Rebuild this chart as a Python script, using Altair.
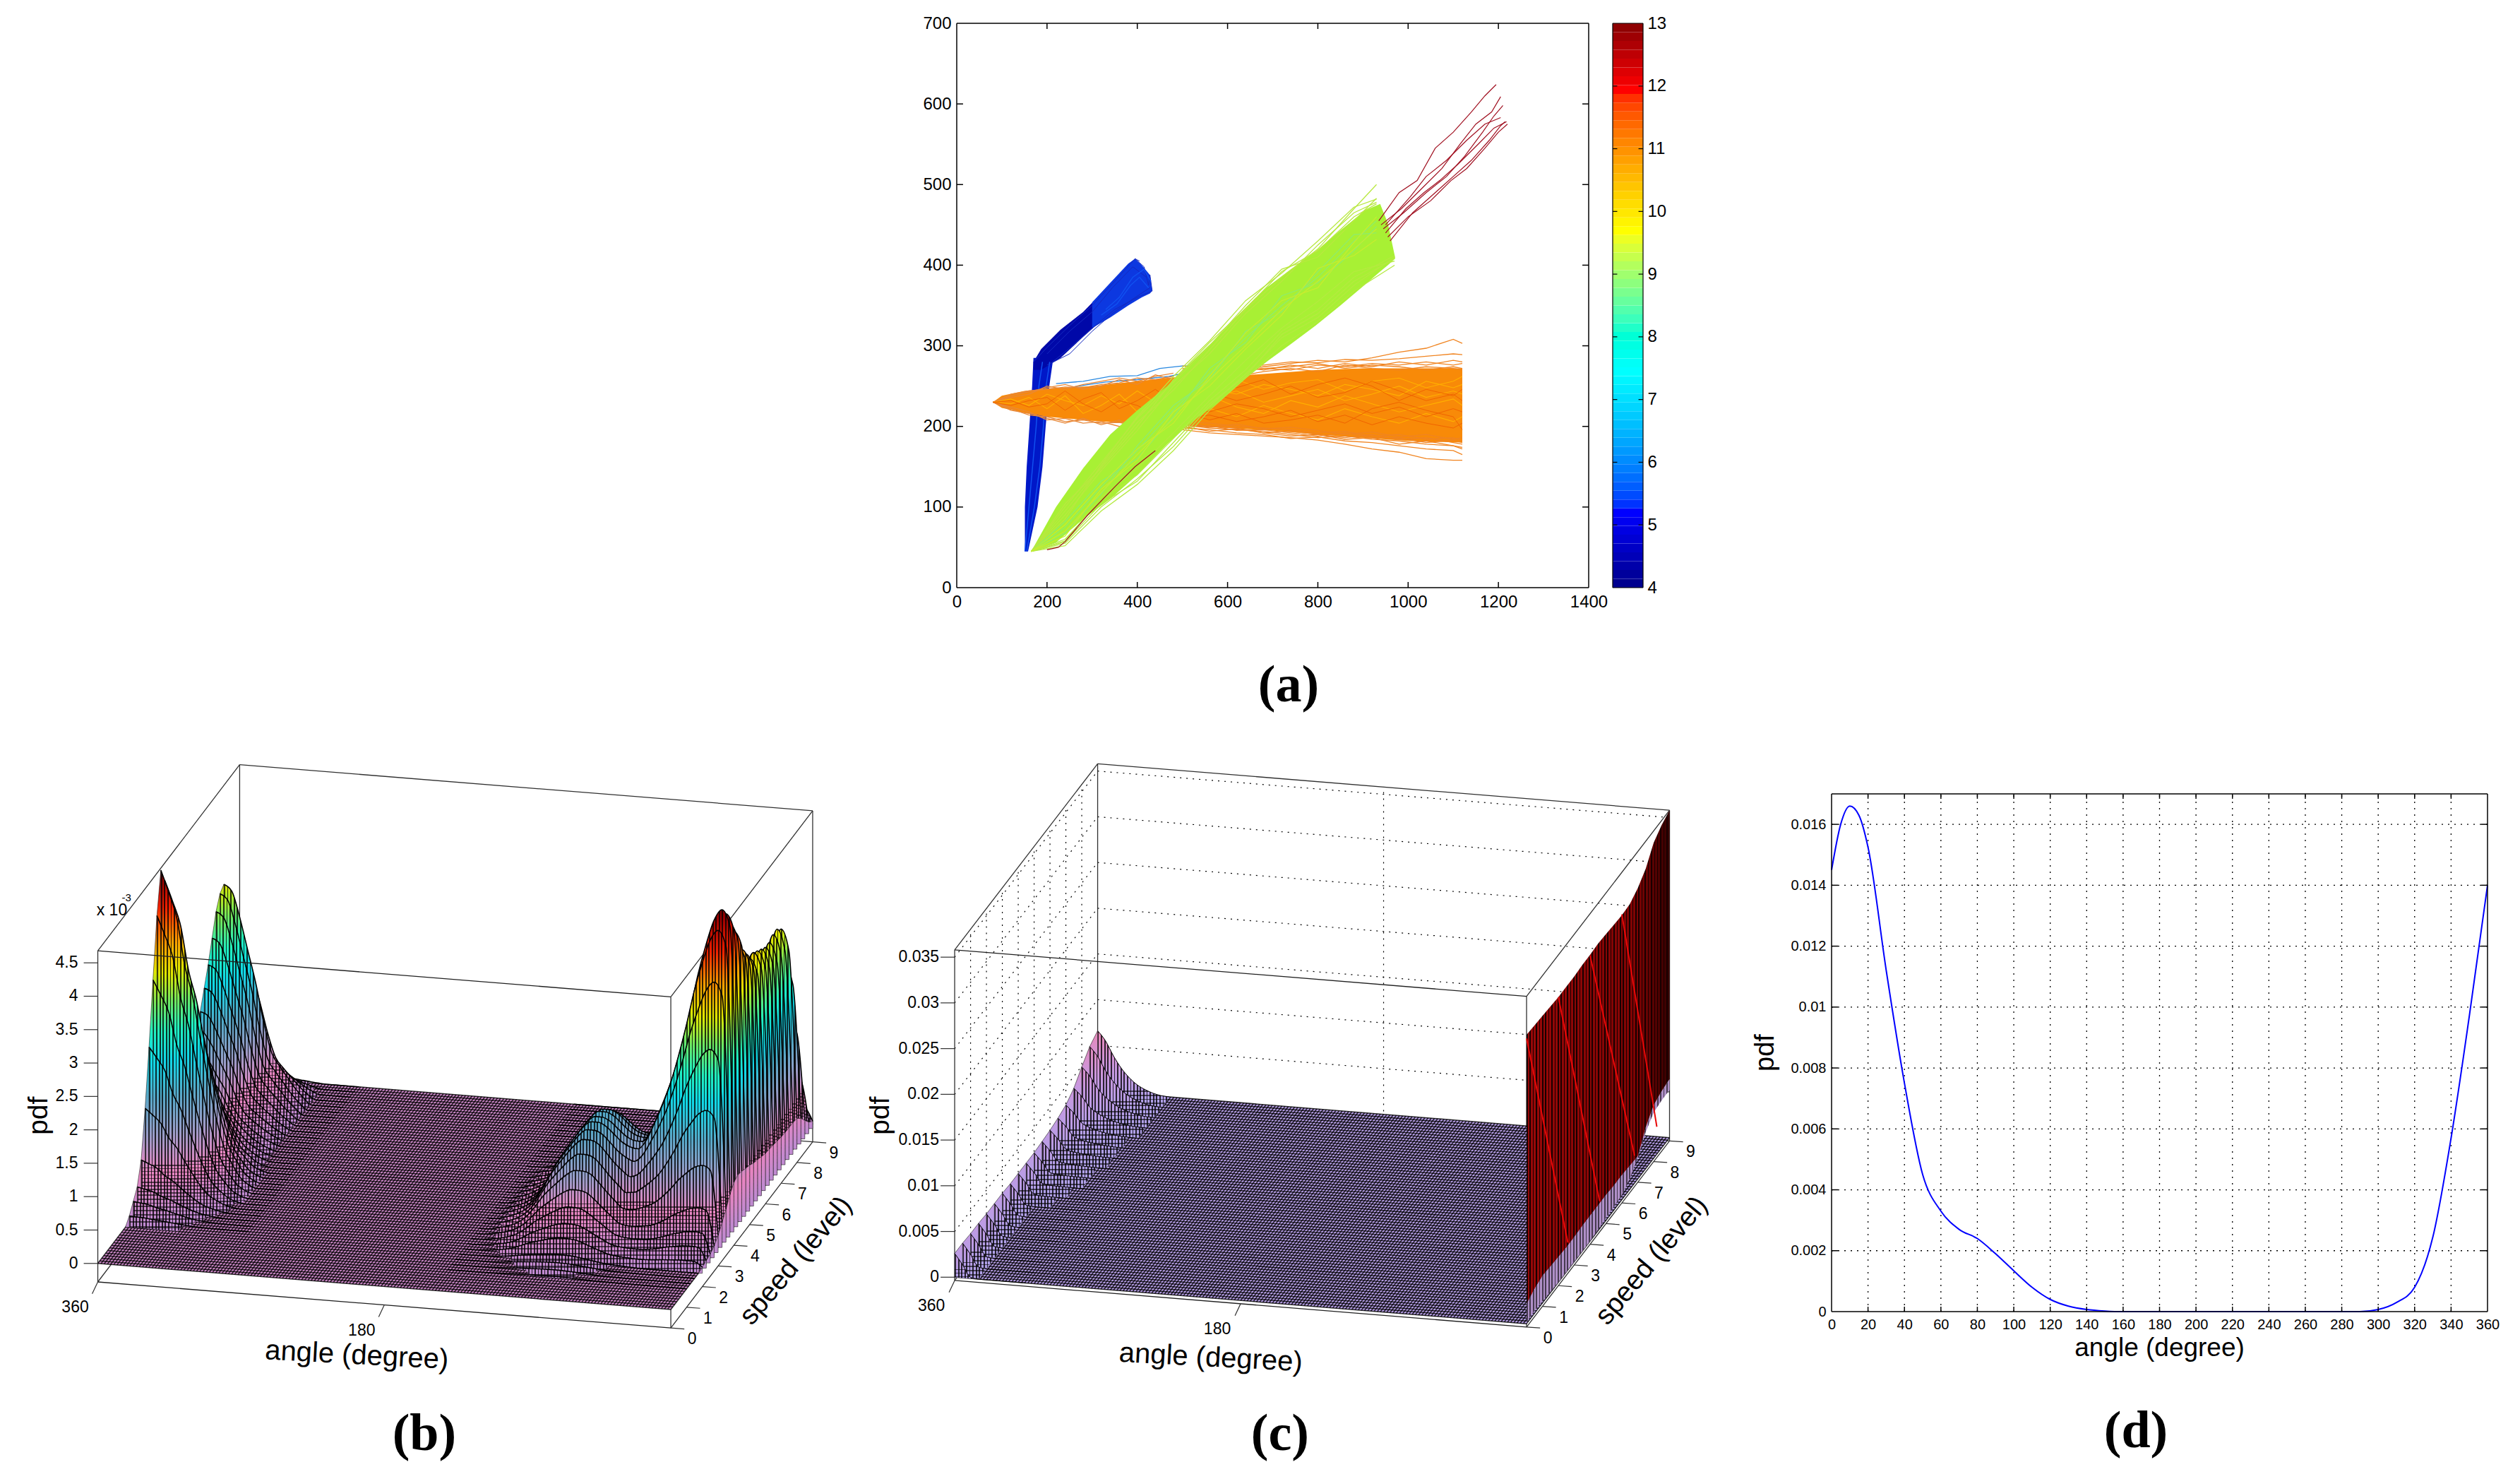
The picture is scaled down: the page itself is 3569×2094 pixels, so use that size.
import altair as alt
import pandas as pd

SANS = "Liberation Sans"
SERIF = "Liberation Serif"

# ---------- panel (a): trajectories ----------
JET_VALUES = [4, 5.125, 7.375, 9.625, 11.875, 13]
JET_COLORS = ["#00008f", "#0000ff", "#00ffff", "#ffff00", "#ff0000", "#800000"]
COLORBAR_LEVELS = [4 + i * 9 / 64 for i in range(64)]

ORANGE_X = [80, 100, 150, 200, 300, 400, 500, 600, 700, 800, 900, 1000, 1120]
ORANGE_TOP = [230, 238, 244, 247, 250, 256, 262, 262, 266, 270, 272, 272, 272]
ORANGE_BOT = [230, 223, 217, 212, 207, 203, 201, 198, 195, 190, 186, 182, 180]
GREEN_X = [165, 220, 280, 340, 400, 466, 520, 576, 630, 686, 740, 795, 850, 905, 938, 955, 971]
GREEN_TOP = [45, 100, 148, 190, 220, 250, 280, 310, 342, 372, 395, 417, 443, 468, 476, 452, 410]
GREEN_BOT = [45, 56, 85, 110, 140, 178, 205, 228, 255, 280, 302, 325, 350, 376, 392, 400, 408]
BLUE_Y = [45, 100, 150, 200, 250, 285]
BLUE_LEFT = [151, 151, 155, 161, 167, 170]
BLUE_RIGHT = [158, 179, 190, 197, 205, 214]
ARM_X = [170, 187, 230, 280, 320]
ARM_TOP = [280, 296, 320, 342, 365]
ARM_BOT = [270, 270, 285, 311, 331]
ARM2_X = [300, 340, 380, 395, 410, 428, 433]
ARM2_TOP = [354, 378, 402, 408, 400, 388, 368]
ARM2_BOT = [322, 335, 350, 355, 360, 365, 368]

ORANGE_RIGHT_X = [500, 560, 620, 680, 740, 800, 860, 920, 980, 1040, 1100, 1120]
ORANGE_EDGES = [
    [275, 272, 270, 274, 278, 282, 280, 285, 292, 297, 308, 303],
    [268, 270, 272, 276, 280, 279, 283, 282, 284, 287, 290, 289],
    [266, 264, 268, 272, 270, 276, 274, 278, 276, 280, 276, 278],
    [262, 266, 262, 268, 272, 268, 276, 272, 270, 274, 272, 270],
    [272, 268, 274, 270, 276, 272, 278, 274, 280, 276, 282, 280],
    [270, 274, 268, 272, 274, 278, 272, 276, 274, 270, 274, 272],
    [196, 192, 190, 188, 186, 183, 178, 172, 168, 160, 158, 158],
    [198, 196, 192, 190, 185, 187, 182, 180, 176, 172, 170, 165],
    [202, 198, 196, 194, 190, 186, 188, 184, 182, 178, 176, 172],
    [204, 200, 198, 192, 194, 190, 186, 190, 184, 186, 180, 178],
    [206, 204, 200, 198, 196, 192, 194, 188, 190, 184, 186, 182],
    [200, 194, 197, 192, 188, 190, 184, 186, 178, 182, 176, 174],
    [199, 201, 195, 196, 192, 188, 192, 186, 186, 180, 183, 180],
    [203, 199, 203, 197, 199, 195, 190, 193, 187, 190, 184, 186],
]
ORANGE_YELLOW = [
    [240, 235, 244, 230, 238, 246, 232, 240, 250, 236, 244, 240],
    [250, 246, 240, 252, 246, 238, 252, 246, 238, 256, 248, 252],
    [215, 222, 212, 226, 216, 208, 222, 212, 204, 216, 206, 212],
    [228, 238, 224, 216, 232, 224, 238, 228, 218, 226, 234, 226],
    [256, 250, 258, 246, 254, 258, 244, 256, 260, 248, 256, 262],
]
ORANGE_RED = [
    [225, 218, 228, 222, 212, 220, 228, 216, 224, 212, 222, 218],
    [210, 214, 206, 212, 220, 206, 214, 202, 212, 204, 198, 204],
    [235, 242, 232, 240, 250, 236, 242, 256, 244, 232, 240, 232],
    [246, 254, 248, 258, 240, 252, 260, 250, 232, 246, 238, 246],
    [218, 208, 216, 204, 208, 214, 204, 222, 230, 220, 212, 196],
]
ORANGE_LEFT_X = [80, 120, 160, 200, 240, 280, 320, 360, 400, 440, 480]
ORANGE_LEFT = [
    [230, 240, 244, 246, 249, 248, 252, 254, 260, 258, 262],
    [230, 236, 240, 250, 246, 252, 256, 260, 256, 262, 266],
    [230, 238, 243, 248, 252, 246, 250, 258, 252, 264, 258],
    [230, 222, 214, 212, 206, 208, 204, 205, 200, 198, 200],
    [230, 224, 218, 208, 210, 204, 206, 200, 203, 196, 198],
    [230, 220, 216, 210, 204, 210, 202, 208, 198, 202, 196],
]
ORANGE_LEFT_YELLOW = [
    [230, 234, 226, 240, 232, 226, 238, 228, 244, 230, 240],
    [230, 228, 236, 222, 238, 216, 226, 240, 218, 234, 222],
]
ORANGE_LEFT_RED = [
    [230, 226, 232, 236, 220, 234, 242, 222, 232, 246, 230],
    [230, 232, 224, 228, 244, 228, 218, 232, 226, 214, 236],
]
GREEN_LINE_X = [165, 240, 320, 400, 480, 560, 640, 720, 800, 880, 930]
GREEN_UPPER = [
    [45, 95, 150, 205, 245, 295, 345, 385, 420, 470, 500],
    [45, 100, 155, 210, 255, 300, 350, 395, 410, 455, 483],
    [45, 90, 145, 195, 250, 290, 340, 380, 425, 465, 478],
    [45, 85, 152, 212, 262, 306, 356, 390, 430, 472, 482],
    [45, 104, 148, 200, 258, 304, 346, 392, 418, 460, 476],
]
GREEN_LOWER_X = [165, 240, 320, 400, 480, 560, 640, 720, 800, 880, 970]
GREEN_LOWER = [
    [45, 55, 100, 135, 175, 225, 265, 310, 335, 375, 410],
    [45, 60, 108, 140, 185, 232, 270, 318, 345, 385, 412],
    [45, 58, 112, 148, 192, 238, 282, 322, 355, 392, 405],
    [45, 52, 95, 128, 170, 220, 260, 300, 330, 368, 400],
    [45, 57, 104, 132, 180, 228, 262, 314, 340, 380, 408],
]
GREEN_INNER = [
    [45, 75, 125, 170, 220, 265, 310, 350, 385, 430, 455],
    [45, 82, 132, 160, 212, 272, 304, 362, 378, 418, 448],
    [45, 68, 116, 176, 226, 258, 318, 342, 392, 438, 440],
]
GREEN_YELLOW = [
    [45, 70, 118, 165, 210, 258, 300, 345, 380, 420, 445],
    [45, 78, 128, 172, 204, 262, 316, 356, 372, 428, 460],
    [45, 64, 122, 158, 218, 250, 296, 338, 396, 412, 432],
]
RED_TRACKS = [
    ([935, 980, 1020, 1060, 1100, 1140, 1170, 1195], [455, 490, 505, 545, 565, 590, 610, 624]),
    ([940, 985, 1030, 1075, 1115, 1150, 1185, 1205], [450, 470, 495, 520, 550, 575, 590, 609]),
    ([945, 990, 1040, 1085, 1125, 1165, 1190, 1210], [445, 465, 490, 510, 535, 565, 585, 598]),
    ([950, 995, 1035, 1070, 1110, 1155, 1190, 1218], [440, 470, 490, 505, 525, 550, 570, 578]),
    ([955, 1000, 1050, 1095, 1130, 1170, 1200, 1220], [435, 460, 480, 505, 520, 545, 565, 575]),
    ([950, 1005, 1040, 1085, 1130, 1170, 1205], [450, 485, 510, 530, 555, 575, 583]),
    ([960, 1010, 1060, 1100, 1140, 1180, 1205, 1215], [430, 465, 490, 510, 530, 555, 573, 578]),
    ([200, 225, 240, 290, 350, 395, 440], [47, 50, 57, 90, 125, 150, 170]),
]
BLUE_TRACKS = [
    ([220, 280, 340, 400, 450, 500, 530], [253, 256, 262, 263, 272, 275, 275]),
    ([200, 270, 330, 400, 470, 520], [243, 250, 255, 258, 262, 268]),
]
NAVY_TRACKS = [
    ([170, 200, 250, 300, 350, 395, 405], [280, 298, 325, 350, 380, 408, 405]),
    ([212, 250, 300, 350, 400, 433], [280, 297, 322, 345, 360, 368]),
    ([395, 415, 428, 425, 433], [408, 398, 388, 375, 368]),
    ([200, 250, 300, 345, 390, 420], [290, 318, 342, 372, 398, 385]),
    ([200, 250, 300, 345, 390, 428], [276, 290, 318, 340, 358, 372]),
]
BRIGHT_BLUE_TRACKS = [
    ([151, 160, 168, 176, 182, 190], [45, 100, 150, 200, 250, 280]),
    ([155, 172, 184, 192, 198, 206], [45, 100, 150, 200, 250, 280]),
    ([330, 360, 390, 415, 430], [345, 360, 385, 395, 380]),
    ([320, 355, 385, 405, 425], [338, 352, 375, 385, 372]),
]

# ---------- panel (d): marginal pdf ----------
D_ANGLE = [0, 5, 10, 15, 20, 30, 40, 50, 60, 70, 80, 90, 100, 110, 120, 130, 140, 150, 160,
           290, 300, 310, 320, 330, 340, 350, 360]
D_PDF = [0.0145, 0.0160, 0.0166, 0.0163, 0.01525, 0.0112, 0.0075, 0.0045, 0.0033, 0.0027,
         0.0024, 0.0019, 0.00134, 0.0008, 0.0004, 0.00018, 0.00007, 0.00002, 0.0,
         0.0, 0.00007, 0.0003, 0.0008, 0.00245, 0.0057, 0.0097, 0.014]

# ---------- panel (b): surface read as angle profiles and speed weights ----------
B_SPEEDS = [i * 0.25 for i in range(37)]
B_RIGHT_ANGLES = list(range(0, 155, 5))
B_LEFT_ANGLES = list(range(285, 365, 5))
B_NEAR_R = [.15, .95, 1, .96, .88, .78, .66, .55, .45, .36, .28, .2, .14, .09, .05, .02, 0,
            0, 0, 0, 0, 0, 0, 0, 0, 0, 0, 0, 0, 0, 0]
B_FAR_R = [.12, .9, 1, .85, .6, .38, .2, .1, .04, 0, 0, 0, 0, 0, 0, 0, 0,
           0, 0, 0, 0, 0, 0, 0, 0, 0, 0, 0, 0, 0, 0]
B_BUMP_R = [0, 0, 0, .01, .01, .02, .02, .03, .05, .1, .15, .22, .31, .48, .65, .82, .96, 1, 1,
            .93, .82, .7, .57, .4, .25, .15, .09, .05, .02, 0, 0]
B_NEAR_L = [0, 0, 0, 0, .01, .03, .07, .12, .21, .33, .46, .6, .7, .85, .93, 1]
B_FAR_L = [0, 0, 0, 0, 0, .03, .07, .12, .17, .23, .37, .55, .7, .85, .97, 1]
B_NEAR_W = [0, 0, 0, 0, 0, 0, 0, 0, .02, .05, .08, .15, .3, .48, .68, .87, 1, .95, .8, .66, .5,
            .37, .26, .17, .1, .05, .02, .01, 0, 0, 0, 0, 0, 0, 0, 0, 0]
B_NEAR_W_RIGHT = [0, 0, 0, 0, 0, 0, 0, 0, .02, .05, .08, .14, .26, .42, .6, .8, .95, 1, .97, .92, .88,
                  .8, .72, .62, .52, .44, .36, .28, .2, .13, .07, .03, 0, 0, 0, 0, 0]
B_FAR_W = [0, 0, 0, 0, 0, 0, 0, 0, 0, 0, 0, 0, 0, 0, 0, 0, 0, 0, 0, 0, 0, .02, .1, .2, .3, .42,
           .52, .62, .72, .82, .92, .98, 1, .8, .52, .25, .08]
B_BUMP_W = [0, 0, 0, 0, .02, .03, .05, .08, .2, .3, .42, .55, .7, .82, .92, .97, 1, 1, 1, .97, .9,
            .78, .6, .45, .3, .2, .12, .07, .04, .02, 0, 0, 0, 0, 0, 0, 0]
B_NEAR_AMP, B_FAR_AMP, B_BUMP_AMP = 4.65, 3.2, 1.4
B_Z_LEVELS = [0, .5, 1, 1.5, 2, 2.4, 2.8, 3.2, 3.6, 4.1, 4.5, 4.8]
B_Z_COLORS = ["#c08ad0", "#e884c0", "#9c9cc8", "#58a8c8", "#10d8e8", "#20f0c0", "#70e860",
              "#e0e800", "#f8a000", "#f02000", "#a00000", "#500000"]

# ---------- panel (c) ----------
C_SPEEDS = [i * 0.5 for i in range(19)]
C_LEFT_ANGLES = [360 - d for d in range(45, -5, -5)]
C_EDGE_SHAPE = [0, 0, 0, 0, 0, 0, 0, .05, .55, 1]
C_BACK_SHAPE = [0, .01, .04, .09, .16, .27, .42, .62, .85, 1]
C_EDGE_W = [.0026, .0026, .0025, .0025, .0024, .0024, .0024, .0023, .0022, .0021, .0020, .0019,
            .0017, .0015, .0012, .0009, .0006, .0004, .0002]
C_BACK_W = [0, 0, 0, 0, 0, 0, 0, 0, .0001, .0002, .0003, .0005, .0008, .0012, .0018, .0028, .0043,
            .0056, .0064]
C_WALL_TOP = [.0316, .0315, .0314, .0313, .0312, .0312, .0312, .0313, .0313, .0314, .0313, .0312,
              .0311, .0312, .0318, .0328, .0345, .0353, .0358]
C_BAND_TOP = [.0022, .0027, .0030, .0029, .0028, .0027, .0027, .0028, .0028, .0028, .0028, .0027,
              .0027, .0026, .0025, .0045, .0058, .0062, .0064]
C_BAND_BOT = [.0002, .0003, .0002, .0001, 0, 0, 0, 0, 0, .0001, .0003, .0004, .0005, .0012, .0023,
              .0040, .0050, .0052, .0052]
C_Z_LEVELS = [0, .003, .0065]
C_Z_COLORS = ["#b0a0e8", "#c898e0", "#e888b8"]

TICKS_PDF_B = ["0", "0.5", "1", "1.5", "2", "2.5", "3", "3.5", "4", "4.5"]
TICKS_PDF_C = ["0", "0.005", "0.01", "0.015", "0.02", "0.025", "0.03", "0.035"]
SPEED_TICKS = list(range(10))

# scale objects that carry a visible axis (looked up so every layer agrees)
AXES = {}


# ---------- helpers ----------
def q(field, scale):
    return alt.X(field, type="quantitative", scale=scale, axis=AXES.get(id(scale)))


def qy(field, scale):
    return alt.Y(field, type="quantitative", scale=scale, axis=AXES.get(id(scale)))


def rules(frame, sx, sy, color="black", width=1.0, dash=None, opacity=1.0):
    kw = {"strokeDash": dash} if dash else {}
    return alt.Chart(pd.DataFrame(frame)).mark_rule(
        color=color, strokeWidth=width, opacity=opacity, **kw
    ).encode(x=q("x", sx), y=qy("y", sy), x2="x2:Q", y2="y2:Q")


def texts(frame, sx, sy, size=22, angle=0, align="center", font=SANS, weight="normal", baseline="middle"):
    kw = {"angle": angle} if angle else {}
    return alt.Chart(pd.DataFrame(frame)).mark_text(
        font=font, fontSize=size, align=align, baseline=baseline, fontWeight=weight, color="black", **kw
    ).encode(x=q("x", sx), y=qy("y", sy), text="t:N")


def polyline_frame(xs, rows):
    return pd.DataFrame(
        [{"x": x, "y": y, "id": i} for i, row in enumerate(rows) for x, y in zip(xs, row)]
    )


def tracks_frame(tracks):
    return pd.DataFrame(
        [{"x": x, "y": y, "id": i} for i, (xs, ys) in enumerate(tracks) for x, y in zip(xs, ys)]
    )


def lines(frame, sx, sy, color, width=1.0, opacity=1.0):
    return alt.Chart(frame).mark_line(color=color, strokeWidth=width, opacity=opacity).encode(
        x=q("x", sx), y=qy("y", sy), detail="id:N"
    )


def band(xs, top, bot, sx, sy, color):
    frame = pd.DataFrame({"x": xs, "y": top, "y2": bot})
    return alt.Chart(frame).mark_area(color=color).encode(x=q("x", sx), y=qy("y", sy), y2="y2:Q")


def frame_ticks(xticks, yticks, xmax, ymax, xlen, ylen, sx, sy, width=1.5):
    rows = [
        {"x": 0, "x2": xmax, "y": 0, "y2": 0},
        {"x": 0, "x2": xmax, "y": ymax, "y2": ymax},
        {"x": 0, "x2": 0, "y": 0, "y2": ymax},
        {"x": xmax, "x2": xmax, "y": 0, "y2": ymax},
    ]
    for t in xticks:
        rows += [{"x": t, "x2": t, "y": 0, "y2": ylen}, {"x": t, "x2": t, "y": ymax, "y2": ymax - ylen}]
    for t in yticks:
        rows += [{"x": 0, "x2": xlen, "y": t, "y2": t}, {"x": xmax, "x2": xmax - xlen, "y": t, "y2": t}]
    return rules(rows, sx, sy, width=width)


def lerp_color(levels, colors, z):
    if z <= levels[0]:
        return colors[0]
    for i in range(1, len(levels)):
        if z <= levels[i]:
            f = (z - levels[i - 1]) / (levels[i] - levels[i - 1])
            a = [int(colors[i - 1][k:k + 2], 16) for k in (1, 3, 5)]
            b = [int(colors[i][k:k + 2], 16) for k in (1, 3, 5)]
            return "#%02x%02x%02x" % tuple(round(p + (r - p) * f) for p, r in zip(a, b))
    return colors[-1]


def height_gradient(zmax, margin, levels, colors):
    stops = [{"offset": 0, "color": lerp_color(levels, colors, zmax)}]
    for lv, col in reversed(list(zip(levels, colors))):
        if lv < zmax:
            stops.append({"offset": (zmax - lv) / (zmax + margin), "color": col})
    stops.append({"offset": 1, "color": colors[0]})
    return {"gradient": "linear", "x1": 0, "y1": 0, "x2": 0, "y2": 1, "stops": stops}


def stripe_gradient(n, ink, gap="rgba(0,0,0,0)", frac=0.4):
    stops = []
    for i in range(n):
        stops += [
            {"offset": i / n, "color": ink},
            {"offset": (i + frac) / n, "color": ink},
            {"offset": (i + frac) / n, "color": gap},
            {"offset": (i + 1) / n, "color": gap},
        ]
    return {"gradient": "linear", "x1": 0, "y1": 0, "x2": 1, "y2": 0, "stops": stops}


def low_mesh_gradient(zmax, margin, below, px_per_z, period=4.5, ink="rgba(0,0,0,0.6)", gap="rgba(0,0,0,0)"):
    """Fine mesh rows on the foot of a hill, where the reference grid shows as a dense weave."""
    total = (zmax + margin) * px_per_z
    start = max(0.0, (zmax - below) / (zmax + margin))
    stops = [{"offset": 0, "color": gap}, {"offset": start, "color": gap}]
    n = max(1, int((1 - start) * total / period))
    for i in range(n):
        a = start + (1 - start) * i / n
        b = start + (1 - start) * (i + 0.32) / n
        c = start + (1 - start) * (i + 1) / n
        stops += [{"offset": a, "color": ink}, {"offset": b, "color": ink},
                  {"offset": b, "color": gap}, {"offset": c, "color": gap}]
    return {"gradient": "linear", "x1": 0, "y1": 0, "x2": 0, "y2": 1, "stops": stops}


def row_layers(angles, zs, s, step, proj, sx, sy, levels, colors, margin, px_per_z, below, floor_z,
               edge=None, line_w=1.6):
    recs = []
    for a, z in sorted(zip(angles, zs), key=lambda p: -p[0]):
        x, y = proj(a, s, z)
        _, base = proj(a, max(s - step, 0), 0)
        recs.append({"x": x, "y": y, "y2": base if z > floor_z else y})
    frame = pd.DataFrame(recs)
    zmax = max(zs)
    n = int(abs(angles[-1] - angles[0]) / 2)
    enc = dict(x=q("x", sx), y=qy("y", sy), y2="y2:Q")
    out = [
        alt.Chart(frame).mark_area(
            color=height_gradient(zmax, margin, levels, colors), interpolate="monotone"
        ).encode(**enc),
        alt.Chart(frame).mark_area(color=stripe_gradient(n, "rgba(0,0,0,0.78)"), interpolate="monotone").encode(**enc),
        alt.Chart(frame).mark_area(color=low_mesh_gradient(zmax, margin, below, px_per_z),
                                   interpolate="monotone").encode(**enc),
        alt.Chart(frame).mark_line(color="black", strokeWidth=line_w, interpolate="monotone").encode(
            x=q("x", sx), y=qy("y", sy)
        ),
    ]
    if edge and s > 0 and max(edge[1], edge[2]) > 0:
        a_edge, z_here, z_front = edge
        x0, top0 = proj(a_edge, s, z_here)
        x1, top1 = proj(a_edge, s - step, z_front)
        _, base1 = proj(a_edge, s - step, 0)
        patch = pd.DataFrame({"x": [x1, x0], "y": [top1, top0], "y2": [base1, base1]})
        out.append(
            alt.Chart(patch).mark_area(
                color=height_gradient(max(z_here, z_front), margin, levels, colors),
                stroke="#202020", strokeWidth=0.6,
            ).encode(**enc)
        )
    return out


def box_edges(proj, zlo, zhi):
    """Edges of the 3-D box, given as its corners in (angle, speed, pdf)."""
    e = lambda p, r: dict(zip(("x", "y"), proj(*p))) | dict(zip(("x2", "y2"), proj(*r)))
    back = [
        e((360, 0, zhi), (360, 9, zhi)), e((360, 9, zhi), (0, 9, zhi)), e((0, 9, zhi), (0, 0, zhi)),
        e((360, 9, zlo), (360, 9, zhi)), e((0, 9, zlo), (0, 9, zhi)), e((0, 0, zlo), (0, 0, zhi)),
        e((360, 0, zlo), (360, 0, zhi)), e((360, 9, zlo), (0, 9, zlo)), e((360, 0, zlo), (360, 9, zlo)),
        e((0, 0, zlo), (0, 9, zlo)),
    ]
    front = [e((360, 0, zhi), (0, 0, zhi)), e((360, 0, zlo), (0, 0, zlo))]
    return back, front


def floor_layers(proj, sx, sy, fill):
    p00, p09 = proj(360, 0, 0), proj(360, 9, 0)
    p10, p19 = proj(0, 0, 0), proj(0, 9, 0)
    front_slope = (p10[1] - p00[1]) / (p10[0] - p00[0])
    # lower and upper outline of the floor parallelogram at its four corner columns
    lo = [p00[1], p00[1] + front_slope * (p09[0] - p00[0]), p10[1], p19[1]]
    hi = [p00[1], p09[1], p09[1] + front_slope * (p10[0] - p09[0]), p19[1]]
    frame = pd.DataFrame({"x": [p00[0], p09[0], p10[0], p19[0]], "y": hi, "y2": lo})
    plate = alt.Chart(frame).mark_area(color=fill).encode(x=q("x", sx), y=qy("y", sy), y2="y2:Q")
    mesh = []
    for a in range(0, 362, 2):
        mesh.append(dict(zip(("x", "y"), proj(a, 0, 0))) | dict(zip(("x2", "y2"), proj(a, 9, 0))))
    for i in range(73):
        s = i * 0.125
        mesh.append(dict(zip(("x", "y"), proj(360, s, 0))) | dict(zip(("x2", "y2"), proj(0, s, 0))))
    return [plate, rules(mesh, sx, sy, width=1.5, opacity=0.82)]


# ---------- panel (a) ----------
AX = alt.Scale(domain=[0, 1400], nice=False, zero=False)
AY = alt.Scale(domain=[0, 700], nice=False, zero=False)
AXES[id(AX)] = alt.Axis(values=list(range(0, 1600, 200)), domain=False, ticks=False, grid=False, title=None,
                        format="d", labelFont=SANS, labelFontSize=24, labelPadding=8, labelColor="black",
                        labelFlush=False, labelOverlap=False)
AXES[id(AY)] = alt.Axis(values=list(range(0, 800, 100)), domain=False, ticks=False, grid=False, title=None,
                        format="d", labelFont=SANS, labelFontSize=24, labelPadding=8, labelColor="black",
                        labelFlush=False, labelOverlap=False)

blue_low = alt.Chart(pd.DataFrame({"x": BLUE_LEFT, "x2": BLUE_RIGHT, "y": BLUE_Y})).mark_area(
    orient="horizontal", color="#0018c8"
).encode(x=q("x", AX), y=qy("y", AY), x2="x2:Q")

a_layers = [
    blue_low,
    band(ARM_X, ARM_TOP, ARM_BOT, AX, AY, "#0008a8"),
    band(ARM2_X, ARM2_TOP, ARM2_BOT, AX, AY, "#0c38e0"),
    lines(tracks_frame(NAVY_TRACKS), AX, AY, "#1428c0"),
    lines(tracks_frame(BRIGHT_BLUE_TRACKS), AX, AY, "#1050f0", width=1.5),
    lines(tracks_frame(BLUE_TRACKS), AX, AY, "#2888e0", width=1.3),
    band(ORANGE_X, ORANGE_TOP, ORANGE_BOT, AX, AY, "#f88a08"),
    lines(polyline_frame(ORANGE_RIGHT_X, ORANGE_EDGES), AX, AY, "#f08420", width=1.3),
    lines(polyline_frame(ORANGE_LEFT_X, ORANGE_LEFT), AX, AY, "#e88838", width=1.3),
    lines(polyline_frame(ORANGE_RIGHT_X, ORANGE_YELLOW), AX, AY, "#ffb000", width=1.1),
    lines(polyline_frame(ORANGE_RIGHT_X, ORANGE_RED), AX, AY, "#f06400", width=1.0),
    lines(polyline_frame(ORANGE_LEFT_X, ORANGE_LEFT_YELLOW), AX, AY, "#ffb000", width=1.1),
    lines(polyline_frame(ORANGE_LEFT_X, ORANGE_LEFT_RED), AX, AY, "#f06400", width=1.0),
    band(GREEN_X, GREEN_TOP, GREEN_BOT, AX, AY, "#a8f034"),
    lines(polyline_frame(GREEN_LINE_X, GREEN_UPPER), AX, AY, "#b8e840", width=1.3),
    lines(polyline_frame(GREEN_LOWER_X, GREEN_LOWER), AX, AY, "#b4ea40", width=1.3),
    lines(polyline_frame(GREEN_LINE_X, GREEN_INNER), AX, AY, "#8cec70", width=1.2),
    lines(polyline_frame(GREEN_LINE_X, GREEN_YELLOW), AX, AY, "#c8ec30", width=1.2),
    lines(tracks_frame(RED_TRACKS), AX, AY, "#a01020", width=1.2),
    frame_ticks(range(200, 1400, 200), range(100, 700, 100), 1400, 700, 14, 7, AX, AY),
    texts([{"x": 735, "y": -122, "t": "(a)"}], AX, AY, size=74, font=SERIF, weight="bold"),
]
panel_a = alt.layer(*a_layers).properties(width=895, height=799)

# colour bar
CBX = alt.Scale(domain=[0, 1], nice=False, zero=False)
CBY = alt.Scale(domain=[4, 13], nice=False, zero=False)
AXES[id(CBY)] = alt.Axis(orient="right", values=list(range(4, 14)), domain=False, ticks=False, grid=False,
                         title=None, labelFont=SANS, labelFontSize=24, labelPadding=6, labelColor="black",
                         labelFlush=False, labelOverlap=False)
cb_frame = pd.DataFrame({"v": COLORBAR_LEVELS, "v2": [v + 9 / 64 for v in COLORBAR_LEVELS], "xa": 0, "xb": 1})
cb = alt.Chart(cb_frame).mark_rect().encode(
    x=q("xa", CBX), x2="xb:Q", y=qy("v", CBY), y2="v2:Q",
    color=alt.Color("v:Q", legend=None, scale=alt.Scale(domain=JET_VALUES, range=JET_COLORS)),
)
cb_tick_rows = [{"x": 0, "x2": 1, "y": 4, "y2": 4}, {"x": 0, "x2": 1, "y": 13, "y2": 13},
                {"x": 0, "x2": 0, "y": 4, "y2": 13}, {"x": 1, "x2": 1, "y": 4, "y2": 13}]
for t in range(5, 13):
    cb_tick_rows += [{"x": 0, "x2": 0.15, "y": t, "y2": t}, {"x": 1, "x2": 0.85, "y": t, "y2": t}]
panel_cb = alt.layer(cb, rules(cb_tick_rows, CBX, CBY, width=1.2)).properties(width=43, height=799)


# ---------- panel (b) ----------
def proj_b(a, s, z):
    u, v = (360 - a) / 360, s / 9
    return (170 + 1018 * u + 252 * v) / 1.2544, 1040 + (1111 + 97 * u - 392 * v - 140.7 * z) / 1.4877


BX = alt.Scale(domain=[8, 1216], nice=False, zero=False)
BY = alt.Scale(domain=[2070, 1060], nice=False, zero=False)
back_b, front_b = box_edges(proj_b, -0.277, 4.68)


def b_left(i):
    return [B_NEAR_AMP * B_NEAR_W[i] * n + B_FAR_AMP * B_FAR_W[i] * f for n, f in zip(B_NEAR_L, B_FAR_L)]


def b_right(i):
    return [B_NEAR_AMP * B_NEAR_W_RIGHT[i] * n + B_FAR_AMP * B_FAR_W[i] * f + B_BUMP_AMP * B_BUMP_W[i] * c
            for n, f, c in zip(B_NEAR_R, B_FAR_R, B_BUMP_R)]


b_layers = [rules(back_b, BX, BY, color="#303030", width=1.3)] + floor_layers(proj_b, BX, BY, "#cc88c8")
for i in range(len(B_SPEEDS) - 1, -1, -1):
    s = B_SPEEDS[i]
    zl, zr = b_left(i), b_right(i)
    zl_front = b_left(i - 1) if i else zl
    zr_front = b_right(i - 1) if i else zr
    if max(zl) > 0.005:
        b_layers += row_layers(B_LEFT_ANGLES, zl, s, 0.25, proj_b, BX, BY, B_Z_LEVELS, B_Z_COLORS, 0.08, 94.6, 0.6, 0.03,
                               edge=(360, zl[-1], zl_front[-1]))
    if max(zr) > 0.005:
        b_layers += row_layers(B_RIGHT_ANGLES, zr, s, 0.25, proj_b, BX, BY, B_Z_LEVELS, B_Z_COLORS, 0.08, 94.6, 0.6, 0.03,
                               edge=(0, zr[0], zr_front[0]))
b_layers.append(rules(front_b, BX, BY, color="#202020", width=1.3))


def tick_rules(proj, zvals, zlo, dz_x, scale_x=1 / 1.2544, scale_y=1 / 1.4877):
    rows = []
    for z in zvals:
        x, y = proj(360, 0, z)
        rows.append({"x": x, "y": y, "x2": x - dz_x * scale_x, "y2": y})
    x, y = proj(360, 0, zlo)
    rows.append({"x": x, "y": y, "x2": x - 10 * scale_x, "y2": y + 25 * scale_y})
    x, y = proj(180, 0, zlo)
    rows.append({"x": x, "y": y, "x2": x - 10 * scale_x, "y2": y + 25 * scale_y})
    for s in SPEED_TICKS:
        x, y = proj(0, s, zlo)
        rows.append({"x": x, "y": y, "x2": x + 24 * scale_x, "y2": y + 2 * scale_y})
    return rows


def tick_labels(proj, zvals, labels, zlo, zx, ax360, ay, ax180, ay180, sdx, sdy):
    rows_z = []
    for z, t in zip(zvals, labels):
        x, y = proj(360, 0, z)
        rows_z.append({"x": x - zx, "y": y, "t": t})
    rows_c = []
    x, y = proj(360, 0, zlo)
    rows_c.append({"x": x - ax360, "y": y + ay, "t": "360"})
    x, y = proj(180, 0, zlo)
    rows_c.append({"x": x - ax180, "y": y + ay180, "t": "180"})
    for s in SPEED_TICKS:
        x, y = proj(0, s, zlo)
        rows_c.append({"x": x + sdx, "y": y + sdy, "t": str(s)})
    return rows_z, rows_c


def to_b(X, Y):
    return X / 1.2544, 1040 + Y / 1.4877


def to_c(X, Y):
    return 1200 + X / 1.2544, 1040 + Y / 1.4877


def placed(pos, t):
    return [{"x": pos[0], "y": pos[1], "t": t}]


b_z = [i * 0.5 for i in range(10)]
b_tz, b_tc = tick_labels(proj_b, b_z, TICKS_PDF_B, -0.277, 28, 32, 36, 32, 36, 30, 16)
b_layers += [
    rules(tick_rules(proj_b, b_z, -0.277, 25), BX, BY, color="#303030", width=1.2),
    texts(b_tz, BX, BY, size=23, align="right"),
    texts(b_tc, BX, BY, size=23),
    texts(placed(to_b(195, 368), "x 10"), BX, BY, size=23),
    texts(placed(to_b(221, 340), "-3"), BX, BY, size=15),
    texts(placed(to_b(65, 800), "pdf"), BX, BY, size=39, angle=270),
    texts(placed(to_b(630, 1305), "angle (degree)"), BX, BY, size=40, angle=3),
    texts(placed(to_b(1410, 1105), "speed (level)"), BX, BY, size=39, angle=310),
    texts(placed(to_b(750, 1472), "(b)"), BX, BY, size=74, font=SERIF, weight="bold"),
]
panel_b = alt.layer(*b_layers).properties(width=1208, height=1010)


# ---------- panel (c) ----------
def proj_c(a, s, z):
    u, v = (360 - a) / 360, s / 9
    return 1200 + (187 + 1016 * u + 254 * v) / 1.2544, 1040 + (1140 + 98 * u - 392 * v - 19260 * z) / 1.4877


CX = alt.Scale(domain=[1216, 2591], nice=False, zero=False)
CY = alt.Scale(domain=[2070, 1060], nice=False, zero=False)
back_c, front_c = box_edges(proj_c, -0.00036, 0.0358)
c_z = [i * 0.005 for i in range(8)]

dots = []
for z in c_z[1:]:
    dots.append(dict(zip(("x", "y"), proj_c(360, 0, z))) | dict(zip(("x2", "y2"), proj_c(360, 9, z))))
    dots.append(dict(zip(("x", "y"), proj_c(360, 9, z))) | dict(zip(("x2", "y2"), proj_c(0, 9, z))))
for s in SPEED_TICKS[1:-1]:
    dots.append(dict(zip(("x", "y"), proj_c(360, s, -0.00036))) | dict(zip(("x2", "y2"), proj_c(360, s, 0.0358))))
dots.append(dict(zip(("x", "y"), proj_c(180, 9, -0.00036))) | dict(zip(("x2", "y2"), proj_c(180, 9, 0.0358))))

c_layers = [rules(dots, CX, CY, width=1.2, dash=[2, 7]), rules(back_c, CX, CY, color="#303030", width=1.3)]
c_layers += floor_layers(proj_c, CX, CY, "#b8a0e8")


def c_row(i):
    return [C_EDGE_W[i] * e + C_BACK_W[i] * b for e, b in zip(C_EDGE_SHAPE, C_BACK_SHAPE)]


for i in range(len(C_SPEEDS) - 1, -1, -1):
    zs = c_row(i)
    zf = c_row(i - 1) if i else zs
    c_layers += row_layers(C_LEFT_ANGLES, zs, C_SPEEDS[i], 0.5, proj_c, CX, CY, C_Z_LEVELS, C_Z_COLORS, 0.0006, 12946,
                           0.0009, 0.00002, edge=(360, zs[-1], zf[-1]), line_w=1.0)


def wall_frame(top, bot):
    recs = []
    for s, t, b in zip(C_SPEEDS, top, bot):
        x, y = proj_c(0, s, t)
        _, y2 = proj_c(0, s, b)
        recs.append({"x": x, "y": y, "y2": y2})
    return pd.DataFrame(recs)


wall_stops = []
WALL_STRIPES = 46
for k in range(WALL_STRIPES):
    f = k / WALL_STRIPES
    base = lerp_color([0, .75, 1], ["#980808", "#800404", "#300000"], f)
    ink = "#180000"
    wall_stops += [
        {"offset": f, "color": ink}, {"offset": (k + .35) / WALL_STRIPES, "color": ink},
        {"offset": (k + .35) / WALL_STRIPES, "color": base}, {"offset": (k + 1) / WALL_STRIPES, "color": base},
    ]
wall_enc = dict(x=q("x", CX), y=qy("y", CY), y2="y2:Q")
c_layers += [
    alt.Chart(wall_frame(C_BAND_TOP, C_BAND_BOT)).mark_area(color="#b090c8").encode(**wall_enc),
    alt.Chart(wall_frame(C_BAND_TOP, C_BAND_BOT)).mark_area(color=stripe_gradient(46, "rgba(0,0,0,0.6)")).encode(**wall_enc),
    alt.Chart(wall_frame(C_WALL_TOP, C_BAND_TOP)).mark_area(
        color={"gradient": "linear", "x1": 0, "y1": 0, "x2": 1, "y2": 0, "stops": wall_stops}
    ).encode(**wall_enc),
]
bright = []
for s0, s1 in [(0.0, 2.6), (2.0, 4.6), (4.0, 6.8), (6.0, 8.2)]:
    x, y = proj_c(0, s0, 0.0312)
    x2, y2 = proj_c(0, s1, 0.0030)
    bright.append({"x": x, "y": y, "x2": x2, "y2": y2})
c_layers.append(rules(bright, CX, CY, color="#e80808", width=2))
c_layers.append(rules(front_c, CX, CY, color="#202020", width=1.3))
c_tz, c_tc = tick_labels(proj_c, c_z, TICKS_PDF_C, -0.00036, 22, 33, 36, 33, 36, 30, 16)
c_layers += [
    rules(tick_rules(proj_c, c_z, -0.00036, 25), CX, CY, color="#303030", width=1.2),
    texts(c_tz, CX, CY, size=23, align="right"),
    texts(c_tc, CX, CY, size=23),
    texts(placed(to_c(55, 800), "pdf"), CX, CY, size=39, angle=270),
    texts(placed(to_c(642, 1310), "angle (degree)"), CX, CY, size=40, angle=3),
    texts(placed(to_c(1425, 1105), "speed (level)"), CX, CY, size=39, angle=310),
    texts(placed(to_c(765, 1472), "(c)"), CX, CY, size=74, font=SERIF, weight="bold"),
]
panel_c = alt.layer(*c_layers).properties(width=1375, height=1010)

# ---------- panel (d) ----------
DX = alt.Scale(domain=[0, 360], nice=False, zero=False)
DY = alt.Scale(domain=[0, 0.017], nice=False, zero=False)
d_x_ticks = list(range(0, 380, 20))
d_y_ticks = [i * 0.002 for i in range(9)]
AXES[id(DX)] = alt.Axis(values=d_x_ticks, domain=False, ticks=False, grid=False, title=None, format="d",
                        labelFont=SANS, labelFontSize=20, labelPadding=8, labelColor="black",
                        labelFlush=False, labelOverlap=False)
AXES[id(DY)] = alt.Axis(values=d_y_ticks, domain=False, ticks=False, grid=False, title=None,
                        labelExpr="format(datum.value, '.3~f')",
                        labelFont=SANS, labelFontSize=20, labelPadding=8, labelColor="black",
                        labelFlush=False, labelOverlap=False)
d_line = alt.Chart(pd.DataFrame({"x": D_ANGLE, "y": D_PDF})).mark_line(
    color="#0000ff", strokeWidth=2, interpolate="monotone"
).encode(x=q("x", DX), y=qy("y", DY))
d_grid = [{"x": t, "x2": t, "y": 0, "y2": 0.017} for t in d_x_ticks[1:-1]]
d_grid += [{"x": 0, "x2": 360, "y": t, "y2": t} for t in d_y_ticks[1:]]
panel_d = alt.layer(
    rules(d_grid, DX, DY, width=1.3, dash=[2, 7]),
    d_line,
    frame_ticks(d_x_ticks[1:-1], d_y_ticks[1:], 360, 0.017, 3.5, 0.00016, DX, DY),
    texts([{"x": -36, "y": 0.0085, "t": "pdf"}], DX, DY, size=38, angle=270),
    texts([{"x": 180, "y": -0.0012, "t": "angle (degree)"}], DX, DY, size=37),
    texts([{"x": 167, "y": -0.00395, "t": "(d)"}], DX, DY, size=74, font=SERIF, weight="bold"),
).properties(width=929, height=733)


# ---------- layout ----------
def spacer(w, h):
    return alt.Chart(pd.DataFrame({"v": [0]})).mark_point(opacity=0).encode(
        x=alt.value(0), y=alt.value(0)
    ).properties(width=w, height=h)


top_row = alt.hconcat(spacer(1344, 799), panel_a, spacer(34, 799), panel_cb, spacing=0, bounds="flush")
d_col = alt.vconcat(spacer(929, 62), panel_d, spacing=0, bounds="flush")
bottom_row = alt.hconcat(panel_b, panel_c, d_col, spacing=0, bounds="flush")
chart = alt.vconcat(top_row, bottom_row, spacing=50).properties(
    padding={"left": 0, "top": 13, "right": 0, "bottom": 0}
).configure_view(stroke=None).configure_concat(spacing=0)

chart.save("out.html", embed_options={"renderer": "svg", "actions": False})
